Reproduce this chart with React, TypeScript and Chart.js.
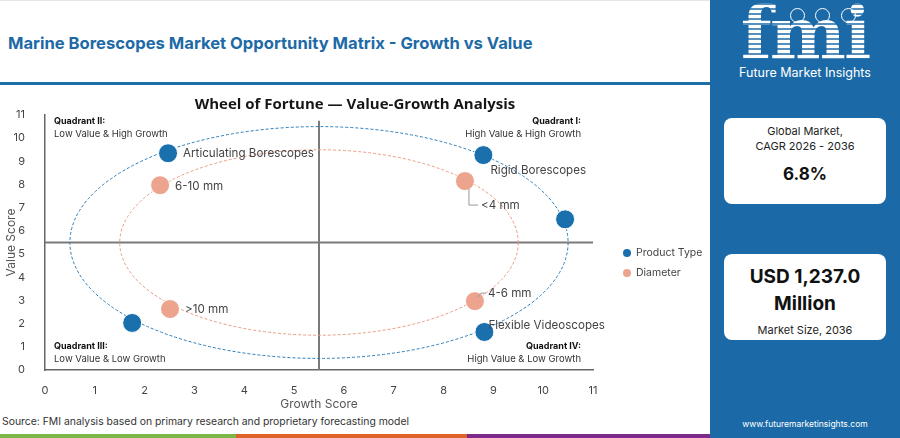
import { useEffect, useRef } from "react";
import { Chart, registerables } from "chart.js";

Chart.register(...registerables);

// Product type segment
const productNames = ["Articulating Borescopes", "Rigid Borescopes", "", "Flexible Videoscopes", ""];
const productGrowth = [2.47, 8.8, 10.44, 8.82, 1.75];
const productValue = [9.35, 9.27, 6.5, 1.64, 2.03];

// Diameter segment
const diameterNames = ["6-10 mm", "<4 mm", "4-6 mm", ">10 mm"];
const diameterGrowth = [2.31, 8.43, 8.63, 2.51];
const diameterValue = [7.97, 8.15, 2.97, 2.63];

const seriesNames = ["Product Type", "Diameter"];
const ringRadii = [5, 4];
const midpoint = 5.5;
const axisMax = 11;

const quadrantTitles = ["Quadrant II:", "Quadrant I:", "Quadrant III:", "Quadrant IV:"];
const quadrantTexts = [
  "Low Value & High Growth",
  "High Value & High Growth",
  "Low Value & Low Growth",
  "High Value & Low Growth",
];

const BLUE = "#1a70ad";
const SALMON = "#eca48e";
const FONT = "Inter, 'Open Sans', sans-serif";

// label nudges in px: [dx, dy, leader]
const productNudge: ([number, number, boolean] | null)[] = [[15, 0, false], [7, 15, false], null, [4, -6, false], null];
const diameterNudge: ([number, number, boolean] | null)[] = [[15, 1, false], [16, 24, true], [13, -8, true], [15, 0, false]];

const guides = {
  id: "guides",
  beforeDatasetsDraw(chart: any) {
    const { ctx, chartArea, scales } = chart;
    const x = scales.x;
    const y = scales.y;
    ctx.save();
    // crosshair
    ctx.strokeStyle = "#7a7a7a";
    ctx.lineWidth = 2;
    ctx.beginPath();
    ctx.moveTo(x.getPixelForValue(midpoint), y.getPixelForValue(0));
    ctx.lineTo(x.getPixelForValue(midpoint), y.getPixelForValue(10.75));
    ctx.moveTo(chartArea.left, y.getPixelForValue(midpoint));
    ctx.lineTo(x.getPixelForValue(axisMax), y.getPixelForValue(midpoint));
    ctx.stroke();
    // rings
    const colors = ["#2c7db8", "#e99b83"];
    ringRadii.forEach((r, i) => {
      const cx = x.getPixelForValue(midpoint);
      const cy = y.getPixelForValue(midpoint);
      const rx = x.getPixelForValue(midpoint + r) - cx;
      const ry = cy - y.getPixelForValue(midpoint + r);
      ctx.strokeStyle = colors[i];
      ctx.lineWidth = 1;
      ctx.setLineDash([3, 2]);
      ctx.beginPath();
      ctx.ellipse(cx, cy, rx, ry, 0, 0, Math.PI * 2);
      ctx.stroke();
    });
    ctx.setLineDash([]);
    // quadrant notes
    const l = chartArea.left + 9;
    const r = chartArea.right - 12;
    const t = chartArea.top + 6;
    const b = chartArea.bottom - 24;
    const spots: [number, number, CanvasTextAlign][] = [
      [l, t, "left"],
      [r, t, "right"],
      [l, b, "left"],
      [r, b, "right"],
    ];
    ctx.textBaseline = "middle";
    spots.forEach(([px, py, align], i) => {
      ctx.textAlign = align;
      ctx.fillStyle = "#111";
      ctx.font = `bold 9px ${FONT}`;
      ctx.fillText(quadrantTitles[i], px, py);
      ctx.fillStyle = "#333";
      ctx.font = `9.5px ${FONT}`;
      ctx.fillText(quadrantTexts[i], px, py + 13);
    });
    ctx.restore();
  },
  afterDatasetsDraw(chart: any) {
    const { ctx } = chart;
    ctx.save();
    ctx.font = `11.6px ${FONT}`;
    ctx.fillStyle = "#444";
    ctx.textAlign = "left";
    ctx.textBaseline = "middle";
    const sets = [
      { names: productNames, nudge: productNudge },
      { names: diameterNames, nudge: diameterNudge },
    ];
    sets.forEach((s, di) => {
      const meta = chart.getDatasetMeta(di);
      meta.data.forEach((pt: any, i: number) => {
        const n = s.nudge[i];
        if (!n || !s.names[i]) return;
        const [dx, dy, leader] = n;
        if (leader) {
          ctx.strokeStyle = "#999";
          ctx.lineWidth = 1;
          ctx.beginPath();
          if (dy > 0) {
            ctx.moveTo(pt.x + 4, pt.y + 8);
            ctx.lineTo(pt.x + 4, pt.y + dy);
            ctx.lineTo(pt.x + dx - 3, pt.y + dy);
          } else {
            ctx.moveTo(pt.x + 3, pt.y - 4);
            ctx.lineTo(pt.x + 6, pt.y + dy);
            ctx.lineTo(pt.x + dx - 2, pt.y + dy);
          }
          ctx.stroke();
        }
        ctx.fillText(s.names[i], pt.x + dx, pt.y + dy);
      });
    });
    // chart heading
    ctx.font = `bold 15px 'Open Sans', sans-serif`;
    ctx.fillStyle = "#161616";
    ctx.textAlign = "center";
    ctx.fillText("Wheel of Fortune \u2014 Value-Growth Analysis", chart.width / 2, 17);
    ctx.restore();
  },
};

function MatrixChart() {
  const canvasRef = useRef<HTMLCanvasElement>(null);

  useEffect(() => {
    if (!canvasRef.current) return;

    const chart = new Chart(canvasRef.current, {
      type: "scatter",
      data: {
        datasets: [
          {
            label: seriesNames[0],
            data: productGrowth.map((g, i) => ({ x: g, y: productValue[i] })),
            backgroundColor: BLUE,
            borderColor: "#ffffff",
            borderWidth: 1,
            pointRadius: 9.5,
          },
          {
            label: seriesNames[1],
            data: diameterGrowth.map((g, i) => ({ x: g, y: diameterValue[i] })),
            backgroundColor: SALMON,
            borderColor: "#ffffff",
            borderWidth: 1,
            pointRadius: 9.5,
          },
        ],
      },
      options: {
        animation: false,
        responsive: true,
        maintainAspectRatio: false,
        layout: { padding: { top: 27, right: 117, left: 0, bottom: 0 } },
        plugins: {
          legend: { display: false },
          tooltip: { enabled: false },
        },
        scales: {
          x: {
            type: "linear",
            min: 0,
            max: axisMax,
            grid: { display: false },
            border: { display: true, color: "#666", width: 1.5 },
            ticks: { stepSize: 1, padding: 6, color: "#444", font: { family: FONT, size: 11 } },
            title: { display: true, text: "Growth Score", color: "#555", padding: { top: 0, bottom: 1 }, font: { family: FONT, size: 12 } },
            afterFit: (s: any) => { s.height = 43; },
          },
          y: {
            type: "linear",
            min: 0,
            max: axisMax,
            grid: { display: false },
            border: { display: true, color: "#666", width: 1.5 },
            ticks: { stepSize: 1, padding: 12, color: "#444", font: { family: FONT, size: 11 } },
            title: { display: true, text: "Value Score", color: "#555", font: { family: FONT, size: 12 } },
            afterFit: (s: any) => { s.width = 45; },
          },
        },
      },
      plugins: [guides],
    });

    return () => chart.destroy();
  }, []);

  return <canvas ref={canvasRef}></canvas>;
}

export default function App() {
  return (
    <div style={{ position: "absolute", left: 0, top: 0, width: 900, height: 438, background: "#fff", overflow: "hidden", fontFamily: FONT }}>
      <div style={{ position: "absolute", left: 0, top: 0, width: 710, height: 1, background: "#e6e6e6" }} />
      <div style={{ position: "absolute", left: 8, top: 33, fontSize: 16.6, fontWeight: 700, color: "#1d6aa6", whiteSpace: "nowrap" }}>
        Marine Borescopes Market Opportunity Matrix - Growth vs Value
      </div>
      <div style={{ position: "absolute", left: 0, top: 82, width: 710, height: 3, background: "#1d6fa5" }} />

      <div style={{ position: "absolute", left: 0, top: 88, width: 710, height: 325 }}>
        <MatrixChart />
      </div>

      {/* legend */}
      {seriesNames.map((name, i) => (
        <div key={name} style={{ position: "absolute", left: 623, top: 246 + i * 20, display: "flex", alignItems: "center", fontSize: 10.5, color: "#444", whiteSpace: "nowrap" }}>
          <span style={{ width: 8, height: 8, borderRadius: 4, background: i === 0 ? BLUE : SALMON, marginRight: 5, display: "inline-block" }} />
          {name}
        </div>
      ))}

      <div style={{ position: "absolute", left: 2, top: 415, fontSize: 10.4, color: "#333", whiteSpace: "nowrap" }}>
        Source: FMI analysis based on primary research and proprietary forecasting model
      </div>
      <div style={{ position: "absolute", left: 0, top: 434, width: 236, height: 4, background: "#7ab648" }} />
      <div style={{ position: "absolute", left: 236, top: 434, width: 231, height: 4, background: "#e0622a" }} />
      <div style={{ position: "absolute", left: 467, top: 434, width: 243, height: 4, background: "#7d2b8b" }} />

      {/* side panel */}
      <div style={{ position: "absolute", left: 710, top: 0, width: 190, height: 438, background: "#1b6aa7", color: "#fff" }}>
        {[87, 112, 138].map((cx) => (
          <div key={cx} style={{ position: "absolute", left: cx - 7, top: 8, width: 13, height: 13, borderRadius: 8, border: "1.5px solid #fff", background: "#1b6aa7" }} />
        ))}
        <div
          style={{
            position: "absolute", left: 25, top: 0, width: 140, fontSize: 72, lineHeight: "68px", fontWeight: 900,
            fontFamily: "'DejaVu Serif', serif", letterSpacing: -2, textAlign: "center",
            background: "repeating-linear-gradient(#fff 0 3px, rgba(255,255,255,0.25) 3px 5px)",
            WebkitBackgroundClip: "text", backgroundClip: "text", color: "transparent",
          }}
        >
          fmi
        </div>
        <div style={{ position: "absolute", left: 0, width: 190, top: 65, textAlign: "center", fontSize: 12.5, whiteSpace: "nowrap" }}>
          Future Market Insights
        </div>

        <div style={{ position: "absolute", left: 14, top: 118, width: 162, height: 86, background: "#fff", borderRadius: 8, color: "#222", textAlign: "center" }}>
          <div style={{ marginTop: 6, fontSize: 11, lineHeight: "15px" }}>Global Market,<br />CAGR 2026 - 2036</div>
          <div style={{ marginTop: 10, fontSize: 17, fontWeight: 700, color: "#111" }}>6.8%</div>
        </div>

        <div style={{ position: "absolute", left: 14, top: 254, width: 162, height: 86, background: "#fff", borderRadius: 8, color: "#222", textAlign: "center" }}>
          <div style={{ marginTop: 9, fontSize: 19, lineHeight: "27px", fontWeight: 700, color: "#111" }}>USD 1,237.0<br />Million</div>
          <div style={{ marginTop: 6, fontSize: 11 }}>Market Size, 2036</div>
        </div>

        <div style={{ position: "absolute", left: 0, width: 190, top: 419, textAlign: "center", fontSize: 8.5, whiteSpace: "nowrap" }}>
          www.futuremarketinsights.com
        </div>
      </div>
    </div>
  );
}
